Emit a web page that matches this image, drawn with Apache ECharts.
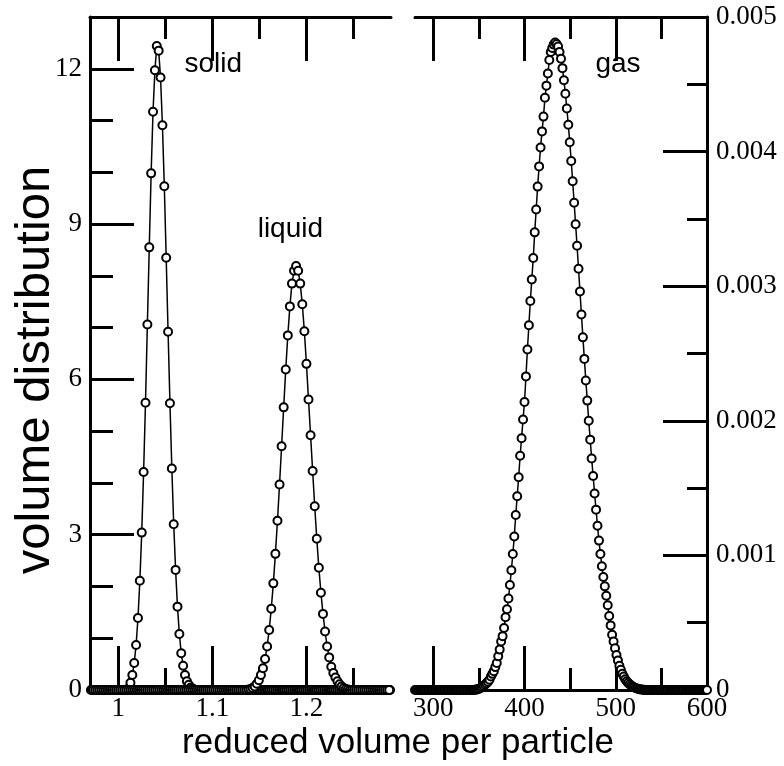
<!DOCTYPE html>
<html lang="en">
<head>
<meta charset="UTF-8">
<title>volume distribution</title>
<script src="https://cdn.jsdelivr.net/npm/echarts@6/dist/echarts.min.js"></script>
<style>
  html, body { margin: 0; padding: 0; background: #fff; }
  #main { width: 784px; height: 766px; }
</style>
</head>
<body>
<div id="main"></div>
<script>
// histogram bins: x = start + i * step, y
var solidStart = 0.971, solidStep = 0.002;
var solidY = [
  0,0,0,0,0,0,0,0,0,0, 0,0,0,0,0,0,0,0,0,0.01,
  0.03,0.14,0.29,0.52,0.87,1.39,2.11,3.04,4.21,5.55,
  7.06,8.55,9.98,11.17,11.97,12.44,12.35,11.83,10.91,9.73,
  8.35,6.92,5.54,4.28,3.20,2.32,1.61,1.08,0.71,0.47,
  0.29,0.17,0.10,0.05,0.03,0.01,
  0,0,0,0,
  0,0,0,0,0,0,0,0,0,0,0,0,0,0,0,0,0,0,0,0,
  0,0,0,0,0,0,0,0,0,0,0,0,0,0,0,0,0,0,0,0,
  0,0,0,0,0,0,0,0,0,0,0,0,0,0,0,0,0,0,0,0,
  0,0,0,0,0,0,0,0,0,0,0,0,0,0,0,0,0,0,0,0,
  0,0,0,0,0,0,0,0,0,0,0,0,0,0,0,0,0,0,0,0
];

var liquidStart = 0.9735, liquidStep = 0.0022;
var liquidY = [
  0,0,0,0,0,0,0,0,0,0, 0,0,0,0,0,0,0,0,0,0,
  0,0,0,0,0,0,0,0,0,0, 0,0,0,0,0,0,0,0,0,0,
  0,0,0,0,0,0,0,0,0,0, 0,0,0,0,0,0,0,0,0,0,
  0,0,0,0,0,0,0,0,0,0, 0,0,0,0,0,
  0.01,0.02,0.04,0.07,0.12,0.19,0.29,0.42,0.60,0.84,
  1.16,1.57,2.06,2.63,3.27,3.97,4.71,5.46,6.19,6.85,
  7.41,7.85,8.10,8.19,8.10,7.85,7.45,6.93,6.30,5.61,
  4.92,4.23,3.55,2.92,2.36,1.88,1.47,1.13,0.84,0.63,
  0.45,0.33,0.24,0.17,0.11,0.07,0.04,0.02,0.01,
  0,0,0,0,0,0,0,0,0,0, 0,0,0,0,0,0,0,0,0,0
];

var gasStart = 280, gasStep = 1.6;
var gasY = [
  0,0,0,0,0,0,0,0,0,0, 0,0,0,0,0,0,0,0,0,0,
  0,0,0,0,0,0,0,0,0,0, 0,0,0,0,0,0,0,0,0,0, 0,
  0.000001,0.000003,0.000006,0.00001,0.000015,0.000022,0.00003,0.00004,0.00005,0.000062,
  0.000076,0.0001,0.00012,0.00014,0.00017,0.0002,0.00025,0.0003,0.00036,0.0004,
  0.00046,0.00054,0.0006,0.00068,0.00078,0.00089,0.00101,0.00114,0.0013,0.00144,
  0.00158,0.00174,0.00187,0.00201,0.00214,0.00233,0.00253,0.00271,0.00289,0.00305,
  0.00321,0.0034,0.00357,0.00374,0.00389,0.00403,0.00415,0.00426,0.0044,0.00449,
  0.00458,0.00468,0.00474,0.00477,0.004795,0.00481,0.0048,0.00478,0.00474,0.00469,
  0.00462,0.00453,0.00443,0.00432,0.0042,0.00407,0.00393,0.00378,0.00362,0.00346,
  0.0033,0.00313,0.00296,0.00279,0.00262,0.00246,0.0023,0.00215,0.002,0.00186,
  0.00172,0.00159,0.00146,0.00134,0.00122,0.00111,0.00101,0.00092,0.00084,0.00077,
  0.0007,0.00063,0.00055,0.00048,0.00041,0.00036,0.00031,0.00026,0.00022,0.00018,
  0.00015,0.00012,0.0001,0.00008,0.000065,0.000053,0.000043,0.000034,0.000026,0.00002,
  0.000015,0.000011,0.000008,0.000005,0.000003,0.000002,0.000001,
  0,0,0,0,0,0,0,0,0,0, 0,0,0,0,0,0,0,0,0,0,
  0,0,0,0,0,0,0,0,0,0, 0,0,0,0,0,0,0,0,0,0, 0,0,0
];

// tick positions
var leftMajorX = [1, 1.1, 1.2];
var leftMinorX = [1.05, 1.15, 1.25];
var leftMajorY = [0, 3, 6, 9, 12];
var leftMinorY = [1, 2, 4, 5, 7, 8, 10, 11];
var rightMajorX = [300, 400, 500, 600];
var rightMinorX = [350, 450, 550];
var rightMajorY = [0, 0.001, 0.002, 0.003, 0.004, 0.005];
var rightMinorY = [0.0005, 0.0015, 0.0025, 0.0035, 0.0045];

function bins(start, step, ys) {
    return ys.map(function(y, i) {
        return [+(start + i * step).toFixed(5), y];
    });
}

// one axis: line + ticks (+ labels if wanted)
// (the inside ticks come out at about half of the given length, hence 44 / 22)
function axis(grid, pos, min, max, ticks, len, showLine, showLabels, margin) {
    return {
        type: 'value', gridIndex: grid, position: pos, min: min, max: max,
        axisLine: { show: showLine, onZero: false, lineStyle: { color: '#000', width: 3 } },
        axisTick: { show: true, inside: true, length: len, customValues: ticks,
                    lineStyle: { color: '#000', width: 3 } },
        axisLabel: { show: showLabels, customValues: ticks, margin: margin,
                     fontFamily: 'Liberation Serif', fontSize: 27, color: '#000' },
        splitLine: { show: false }
    };
}

var pointStyle = {
    type: 'line',
    symbol: 'circle',
    symbolSize: 8,
    itemStyle: { color: '#fff', borderColor: '#000', borderWidth: 2 },
    lineStyle: { color: '#000', width: 1.5 },
    emphasis: { disabled: true },
    animation: false
};

function tag(name, coord) {
    return {
        symbol: 'circle', symbolSize: 1,
        itemStyle: { color: 'rgba(0,0,0,0)' },
        label: { show: true, position: 'inside', formatter: '{b}',
                 fontFamily: 'Liberation Sans', fontSize: 28, color: '#000' },
        data: [{ name: name, coord: coord }]
    };
}

var myChart = echarts.init(document.getElementById('main'));

var option = {
    backgroundColor: '#fff',
    animation: false,
    grid: [
        { left: 90, right: 393, top: 17, bottom: 76 },
        { left: 415, right: 77, top: 17, bottom: 76 }
    ],
    xAxis: [
        axis(0, 'bottom', 0.97, 1.29, leftMajorX, 44, true, true, 5),
        axis(0, 'bottom', 0.97, 1.29, leftMinorX, 22, false, false, 5),
        axis(0, 'top', 0.97, 1.29, leftMajorX, 44, true, false, 5),
        axis(0, 'top', 0.97, 1.29, leftMinorX, 22, false, false, 5),
        axis(1, 'bottom', 280, 600, rightMajorX, 44, true, true, 5),
        axis(1, 'bottom', 280, 600, rightMinorX, 22, false, false, 5),
        axis(1, 'top', 280, 600, rightMajorX, 44, true, false, 5),
        axis(1, 'top', 280, 600, rightMinorX, 22, false, false, 5)
    ],
    yAxis: [
        axis(0, 'left', 0, 13, leftMajorY, 44, true, true, 8),
        axis(0, 'left', 0, 13, leftMinorY, 23, false, false, 8),
        axis(1, 'right', 0, 0.005, rightMajorY, 44, true, true, 9),
        axis(1, 'right', 0, 0.005, rightMinorY, 20, false, false, 9)
    ],
    graphic: [
        { type: 'text', x: 398, y: 743,
          style: { text: 'reduced volume per particle', fontFamily: 'Liberation Sans', fontSize: 35,
                   fill: '#000', align: 'center', verticalAlign: 'middle' } },
        { type: 'text', x: 35, y: 370, rotation: Math.PI / 2,
          style: { text: 'volume distribution', fontFamily: 'Liberation Sans', fontSize: 49,
                   fill: '#000', align: 'center', verticalAlign: 'middle' } }
    ],
    series: [
        Object.assign({}, pointStyle, {
            name: 'solid', xAxisIndex: 0, yAxisIndex: 0,
            data: bins(solidStart, solidStep, solidY),
            markPoint: tag('solid', [1.101, 12.08])
        }),
        Object.assign({}, pointStyle, {
            name: 'liquid', xAxisIndex: 0, yAxisIndex: 0,
            data: bins(liquidStart, liquidStep, liquidY),
            markPoint: tag('liquid', [1.183, 8.89])
        }),
        Object.assign({}, pointStyle, {
            name: 'gas', xAxisIndex: 4, yAxisIndex: 2,
            data: bins(gasStart, gasStep, gasY),
            markPoint: tag('gas', [502.5, 0.00465])
        })
    ]
};

myChart.setOption(option);
</script>
</body>
</html>
